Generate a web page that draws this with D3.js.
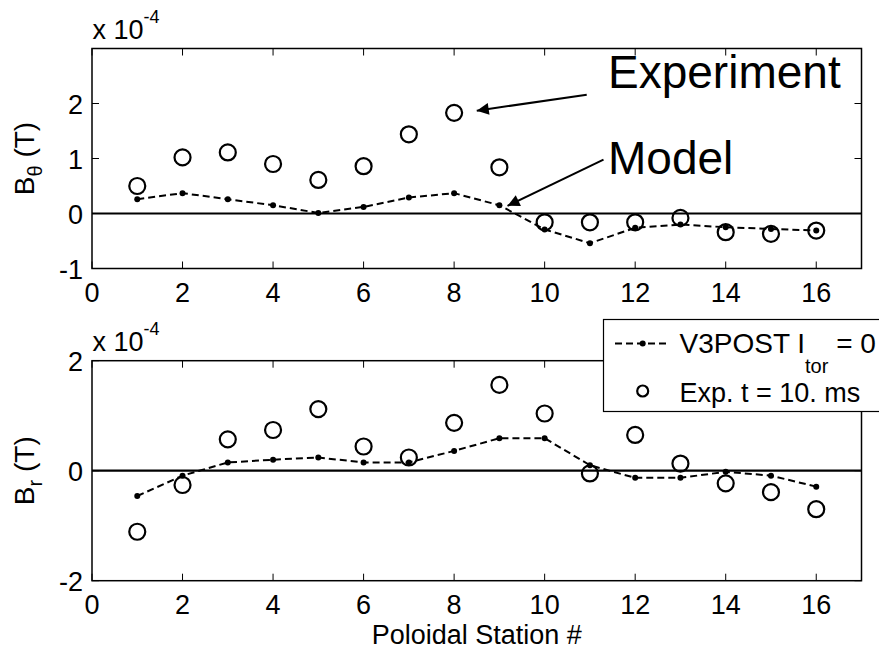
<!DOCTYPE html>
<html><head><meta charset="utf-8">
<script src="https://cdn.jsdelivr.net/npm/d3@7"></script>
<style>body{margin:0;background:#fff}svg{display:block}text{font-family:"Liberation Sans",Arial,sans-serif;fill:#000}</style>
</head><body>
<svg id="c" width="879" height="650"></svg>
<script>
const stations = [1,2,3,4,5,6,7,8,9,10,11,12,13,14,15,16];
// values in units of 1e-4 T
const bthetaExp   = [0.50,1.02,1.11,0.90,0.61,0.86,1.44,1.83,0.84,-0.16,-0.16,-0.16,-0.08,-0.34,-0.37,-0.31];
const bthetaModel = [0.26,0.37,0.26,0.15,0.01,0.12,0.29,0.37,0.15,-0.29,-0.54,-0.26,-0.20,-0.25,-0.28,-0.31];
const brExp       = [-1.11,-0.26,0.57,0.74,1.12,0.44,0.24,0.87,1.56,1.04,-0.05,0.65,0.13,-0.23,-0.39,-0.70];
const brModel     = [-0.46,-0.09,0.15,0.20,0.24,0.15,0.15,0.36,0.59,0.59,0.10,-0.13,-0.13,-0.02,-0.09,-0.29];
const xTicks = [0,2,4,6,8,10,12,14,16];
const yTicksTop = [-1,0,1,2];
const yTicksBot = [-2,0,2];
const legendLabels = ["V3POST I", "tor", " = 0", "Exp. t = 10. ms"];

const svg = d3.select("#c");
const x = d3.scaleLinear().domain([0,17]).range([92,861.5]);
const yTop = d3.scaleLinear().domain([-1,3]).range([268.5,48.5]);
const yBot = d3.scaleLinear().domain([-2,2]).range([580.7,360.7]);

function panel(y, yTicks, expV, modV, sub) {
  const g = svg.append("g");
  const [x0,x1] = x.range(), [yb,yt] = y.range();
  const tl = 7;
  xTicks.forEach(t => {
    g.append("line").attr("x1",x(t)).attr("x2",x(t)).attr("y1",yb).attr("y2",yb-tl).attr("stroke","#000").attr("stroke-width",1);
    g.append("line").attr("x1",x(t)).attr("x2",x(t)).attr("y1",yt).attr("y2",yt+tl).attr("stroke","#000").attr("stroke-width",1);
    g.append("text").attr("x",x(t)).attr("y",yb+33).attr("text-anchor","middle").attr("font-size",27).text(t);
  });
  yTicks.forEach(t => {
    g.append("line").attr("x1",x0).attr("x2",x0+tl).attr("y1",y(t)).attr("y2",y(t)).attr("stroke","#000").attr("stroke-width",1);
    g.append("line").attr("x1",x1).attr("x2",x1-tl).attr("y1",y(t)).attr("y2",y(t)).attr("stroke","#000").attr("stroke-width",1);
    g.append("text").attr("x",x0-9).attr("y",y(t)).attr("dy","0.38em").attr("text-anchor","end").attr("font-size",27).text(t);
  });
  g.append("rect").attr("x",x0).attr("y",yt).attr("width",x1-x0).attr("height",yb-yt)
    .attr("fill","none").attr("stroke","#000").attr("stroke-width",1.5);
  g.append("line").attr("x1",x0).attr("x2",x1).attr("y1",y(0)).attr("y2",y(0)).attr("stroke","#000").attr("stroke-width",2.2);
  const line = d3.line().x((d,i)=>x(stations[i])).y(d=>y(d));
  g.append("path").datum(modV).attr("d",line).attr("fill","none").attr("stroke","#000")
    .attr("stroke-width",2).attr("stroke-dasharray","7,4");
  g.selectAll(null).data(modV).enter().append("circle")
    .attr("cx",(d,i)=>x(stations[i])).attr("cy",d=>y(d)).attr("r",3).attr("fill","#000");
  g.selectAll(null).data(expV).enter().append("circle")
    .attr("cx",(d,i)=>x(stations[i])).attr("cy",d=>y(d)).attr("r",8).attr("fill","none")
    .attr("stroke","#000").attr("stroke-width",2.2);
  const ex = g.append("text").attr("x",x0+0.5).attr("y",yt-10).attr("font-size",27);
  ex.append("tspan").text("x 10");
  ex.append("tspan").attr("dy",-16).attr("font-size",18).text("-4");
  const cy = (yt+yb)/2;
  const yl = g.append("text").attr("transform",`translate(34,${cy}) rotate(-90)`).attr("text-anchor","middle").attr("font-size",28);
  yl.append("tspan").text("B");
  yl.append("tspan").attr("dy",8).attr("font-size",20).text(sub);
  yl.append("tspan").attr("dy",-8).text(" (T)");
  return g;
}
panel(yTop, yTicksTop, bthetaExp, bthetaModel, "θ");
panel(yBot, yTicksBot, brExp, brModel, "r");

svg.append("defs").append("marker").attr("id","ah").attr("viewBox","0 0 10 10").attr("refX",10).attr("refY",5)
  .attr("markerWidth",18).attr("markerHeight",12).attr("markerUnits","userSpaceOnUse").attr("orient","auto")
  .append("path").attr("d","M0,0 L10,5 L0,10 Z").attr("fill","#000");
const annotations = [
  {label:"Experiment", tx:11.4, ty:2.29, x1:10.93, y1:2.16, x2:8.5, y2:1.87},
  {label:"Model", tx:11.4, ty:0.72, x1:11.3, y1:0.98, x2:9.18, y2:0.14}
];
annotations.forEach(a => {
  svg.append("line").attr("x1",x(a.x1)).attr("y1",yTop(a.y1)).attr("x2",x(a.x2)).attr("y2",yTop(a.y2))
    .attr("stroke","#000").attr("stroke-width",2).attr("marker-end","url(#ah)");
  svg.append("text").attr("x",x(a.tx)).attr("y",yTop(a.ty)).attr("font-size",46).text(a.label);
});

const lg = svg.append("g");
lg.append("rect").attr("x",603.5).attr("y",319.5).attr("width",320).attr("height",92).attr("fill","#fff").attr("stroke","#000").attr("stroke-width",1.2);
lg.append("line").attr("x1",615).attr("x2",669).attr("y1",343.5).attr("y2",343.5).attr("stroke","#000").attr("stroke-width",2).attr("stroke-dasharray","7,4");
lg.append("circle").attr("cx",642.7).attr("cy",343.5).attr("r",3).attr("fill","#000");
const t1 = lg.append("text").attr("x",679.5).attr("y",353).attr("font-size",28);
t1.append("tspan").text(legendLabels[0]);
t1.append("tspan").attr("dy",20).attr("font-size",20).text(legendLabels[1]);
t1.append("tspan").attr("dy",-20).text(legendLabels[2]);
lg.append("circle").attr("cx",642.7).attr("cy",391).attr("r",5.5).attr("fill","none").attr("stroke","#000").attr("stroke-width",2.2);
lg.append("text").attr("x",679.5).attr("y",401.5).attr("font-size",27).text(legendLabels[3]);

svg.append("text").attr("x",(x.range()[0]+x.range()[1])/2).attr("y",644).attr("text-anchor","middle").attr("font-size",27).text("Poloidal Station #");
</script>
</body></html>
